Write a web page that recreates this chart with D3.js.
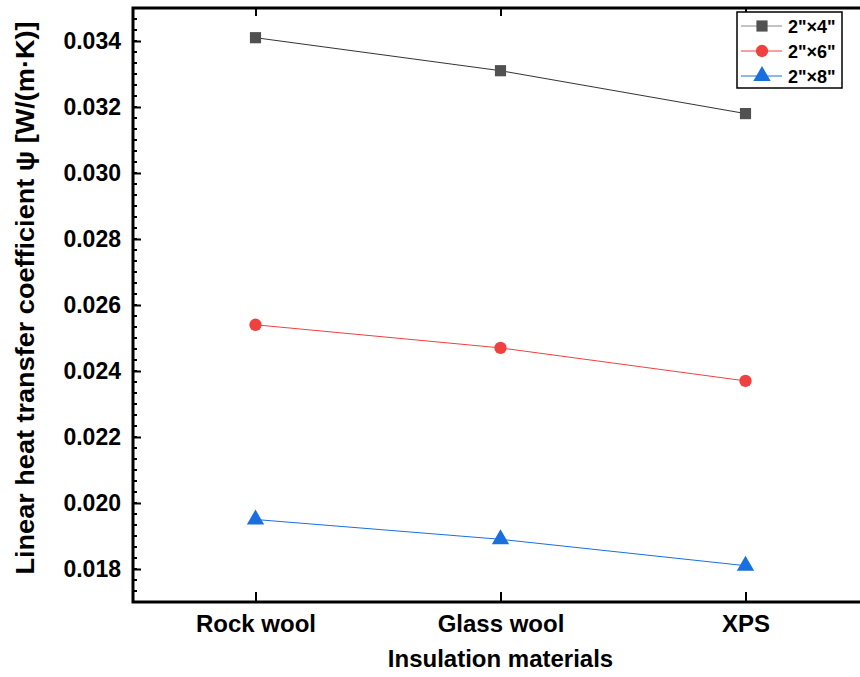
<!DOCTYPE html>
<html>
<head>
<meta charset="utf-8">
<script src="https://cdn.jsdelivr.net/npm/d3@7"></script>
<style>
  body { margin: 0; background: #fff; }
  text { font-family: "Liberation Sans", Arial, sans-serif; font-weight: bold; fill: #000; }
</style>
</head>
<body>
<script>
const width = 860;
const height = 677;

// data
const materials = ["Rock wool", "Glass wool", "XPS"];
const series = ["2\"×4\"", "2\"×6\"", "2\"×8\""];
const psi2x4 = [0.0341, 0.0331, 0.0318];
const psi2x6 = [0.0254, 0.0247, 0.0237];
const psi2x8 = [0.0195, 0.0189, 0.0181];
const yTicks = [0.018, 0.020, 0.022, 0.024, 0.026, 0.028, 0.030, 0.032, 0.034];

const colors = ["#515151", "#F14040", "#1A6FDF"];
const lineColors = ["#333333", "#F14040", "#1A6FDF"];
const symbols = [d3.symbolSquare, d3.symbolCircle, d3.symbolTriangle];
const symSizes = [125, 120, 130];

const margin = { top: 8, right: -8, bottom: 75, left: 133 };

const svg = d3.select('body').append('svg')
  .attr('width', width)
  .attr('height', height);

const x = d3.scalePoint()
  .domain(materials)
  .range([margin.left, width - margin.right])
  .padding(0.5);

const y = d3.scaleLinear()
  .domain([0.017, 0.035])
  .range([height - margin.bottom, margin.top]);

const x0 = margin.left, x1 = width - margin.right;
const y0 = height - margin.bottom, y1 = margin.top;

// minor ticks (5 between majors)
const minorTicks = d3.range(0, 55).map(i => 0.017 + i * 0.002 / 6)
  .filter(v => v <= 0.035 + 1e-9);

svg.append('g').selectAll('line')
  .data(minorTicks)
  .join('line')
  .attr('x1', x0).attr('x2', x0 + 4)
  .attr('y1', d => y(d)).attr('y2', d => y(d))
  .attr('stroke', '#000').attr('stroke-width', 2);

// left axis
const leftAxis = d3.axisLeft(y)
  .tickValues(yTicks)
  .tickSize(-8)
  .tickPadding(12)
  .tickFormat(d3.format('.3f'));

svg.append('g')
  .attr('transform', `translate(${x0},0)`)
  .call(leftAxis)
  .call(a => a.select('.domain').remove())
  .call(a => a.selectAll('line').attr('stroke-width', 2))
  .call(a => a.selectAll('text').attr('font-size', 23).attr('font-family', null));

// right axis (major only)
svg.append('g')
  .attr('transform', `translate(${x1},0)`)
  .call(d3.axisRight(y).tickValues(yTicks).tickSize(-8).tickFormat(''))
  .call(a => a.select('.domain').remove())
  .call(a => a.selectAll('line').attr('stroke-width', 2));

// bottom axis
svg.append('g')
  .attr('transform', `translate(0,${y0})`)
  .call(d3.axisBottom(x).tickSize(-10).tickPadding(13))
  .call(a => a.select('.domain').remove())
  .call(a => a.selectAll('line').attr('stroke-width', 2))
  .call(a => a.selectAll('text').attr('font-size', 24).attr('font-family', null));

// top axis
svg.append('g')
  .attr('transform', `translate(0,${y1})`)
  .call(d3.axisTop(x).tickSize(-8).tickFormat(''))
  .call(a => a.select('.domain').remove())
  .call(a => a.selectAll('line').attr('stroke-width', 2));

// frame
svg.append('rect')
  .attr('x', x0).attr('y', y1)
  .attr('width', x1 - x0).attr('height', y0 - y1)
  .attr('fill', 'none')
  .attr('stroke', '#000')
  .attr('stroke-width', 3);

// lines + markers
const allSeries = [psi2x4, psi2x6, psi2x8];
const line = d3.line()
  .x((d, i) => x(materials[i]))
  .y(d => y(d));

allSeries.forEach((vals, si) => {
  svg.append('path')
    .datum(vals)
    .attr('d', line)
    .attr('fill', 'none')
    .attr('stroke', lineColors[si])
    .attr('stroke-width', 1);

  svg.selectAll(`path.m${si}`)
    .data(vals)
    .join('path')
    .attr('class', `m${si}`)
    .attr('transform', (d, i) => `translate(${x(materials[i])},${y(d)})`)
    .attr('d', d3.symbol(symbols[si], symSizes[si]))
    .attr('fill', colors[si]);
});

// axis titles
svg.append('text')
  .attr('x', (x0 + x1) / 2)
  .attr('y', 667)
  .attr('text-anchor', 'middle')
  .attr('font-size', 24)
  .text('Insulation materials');

svg.append('text')
  .attr('transform', `translate(34,298) rotate(-90)`)
  .attr('text-anchor', 'middle')
  .attr('font-size', 26)
  .attr('textLength', 553)
  .attr('lengthAdjust', 'spacingAndGlyphs')
  .text('Linear heat transfer coefficient ψ [W/(m·K)]');

// legend
const lg = svg.append('g').attr('transform', 'translate(737,12)');
lg.append('rect')
  .attr('width', 105).attr('height', 76)
  .attr('fill', '#fff').attr('stroke', '#000').attr('stroke-width', 1.5);

series.forEach((s, i) => {
  const yy = 14 + i * 25;
  lg.append('line')
    .attr('x1', 4).attr('x2', 45)
    .attr('y1', yy).attr('y2', yy)
    .attr('stroke', i === 0 ? '#888' : lineColors[i])
    .attr('stroke-width', 1);
  lg.append('path')
    .attr('transform', `translate(25,${yy})`)
    .attr('d', d3.symbol(symbols[i], symSizes[i]))
    .attr('fill', colors[i]);
  lg.append('text')
    .attr('x', 51).attr('y', yy + 6.5)
    .attr('font-size', 18)
    .text(s);
});
</script>
</body>
</html>
